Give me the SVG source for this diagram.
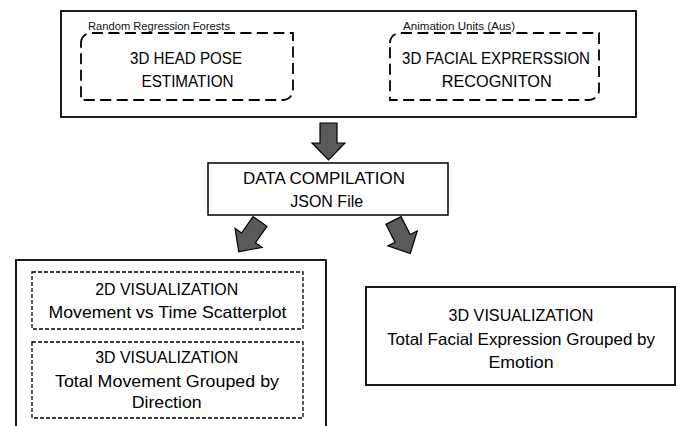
<svg xmlns="http://www.w3.org/2000/svg" width="680" height="426" viewBox="0 0 680 426">
<style>
.box{fill:#fff;stroke:#000;stroke-width:1.8}
.dash1{fill:none;stroke:#000;stroke-width:1.8;stroke-dasharray:11 5.5}
.dash2{fill:none;stroke:#000;stroke-width:1.3;stroke-dasharray:4 2}
.t{font-family:"Liberation Sans",Arial,sans-serif;font-size:16.5px;fill:#000;text-anchor:middle}
.s{font-family:"Liberation Sans",Arial,sans-serif;font-size:10.5px;fill:#111}
.arr{fill:#595959;stroke:#000;stroke-width:1.2;stroke-linejoin:miter}
</style>
<defs>
<polygon id="ar" points="-8.5,0 8.5,0 8.5,20 16.5,20 0,37 -16.5,20 -8.5,20"/>
</defs>
<g id="top-box">
<rect class="box" x="61" y="11" width="575" height="106"/>
</g>
<g id="head-pose">
<text class="s" x="88" y="30" textLength="142" lengthAdjust="spacingAndGlyphs">Random Regression Forests</text>
<path class="dash1" d="M81,43 A10,10 0 0 1 91,33 H293 V90 A10,10 0 0 1 283,100 H81 Z"/>
<text class="t" x="186" y="64" textLength="112" lengthAdjust="spacingAndGlyphs">3D HEAD POSE</text>
<text class="t" x="187.5" y="87" textLength="92" lengthAdjust="spacingAndGlyphs">ESTIMATION</text>
</g>
<g id="facial-expression">
<text class="s" x="403" y="30" textLength="112" lengthAdjust="spacingAndGlyphs">Animation Units (Aus)</text>
<path class="dash1" d="M390,43 A10,10 0 0 1 400,33 H599 V90 A10,10 0 0 1 589,100 H390 Z"/>
<text class="t" x="496" y="64" textLength="188" lengthAdjust="spacingAndGlyphs">3D FACIAL EXPRERSSION</text>
<text class="t" x="496.7" y="87" textLength="110" lengthAdjust="spacingAndGlyphs">RECOGNITON</text>
</g>
<g id="data-compilation">
<rect class="box" x="208" y="163" width="240" height="52" style="stroke-width:1.5"/>
<text class="t" x="324" y="184" textLength="162" lengthAdjust="spacingAndGlyphs">DATA COMPILATION</text>
<text class="t" x="326.7" y="207" textLength="73" lengthAdjust="spacingAndGlyphs">JSON File</text>
</g>
<g id="head-pose-visualizations">
<rect class="box" x="16" y="260" width="310" height="175"/>
<rect class="dash2" x="32" y="272" width="271" height="57"/>
<text class="t" x="166.7" y="295" textLength="143" lengthAdjust="spacingAndGlyphs">2D VISUALIZATION</text>
<text class="t" x="167.5" y="318" textLength="238" lengthAdjust="spacingAndGlyphs">Movement vs Time Scatterplot</text>
<rect class="dash2" x="32" y="342" width="271" height="76"/>
<text class="t" x="166.7" y="363" textLength="143" lengthAdjust="spacingAndGlyphs">3D VISUALIZATION</text>
<text class="t" x="167" y="387" textLength="224" lengthAdjust="spacingAndGlyphs">Total Movement Grouped by</text>
<text class="t" x="166.7" y="408" textLength="70" lengthAdjust="spacingAndGlyphs">Direction</text>
</g>
<g id="facial-visualization">
<rect class="box" x="366" y="287" width="309" height="98"/>
<text class="t" x="521" y="321" textLength="145" lengthAdjust="spacingAndGlyphs">3D VISUALIZATION</text>
<text class="t" x="521" y="345" textLength="268" lengthAdjust="spacingAndGlyphs">Total Facial Expression Grouped by</text>
<text class="t" x="521" y="368" textLength="65" lengthAdjust="spacingAndGlyphs">Emotion</text>
</g>
<g id="connectors">
<use href="#ar" class="arr" transform="translate(328.5,123)"/>
<use href="#ar" class="arr" transform="translate(260,221.5) rotate(35)"/>
<use href="#ar" class="arr" transform="translate(393.5,220.5) rotate(-27)"/>
</g>
</svg>
